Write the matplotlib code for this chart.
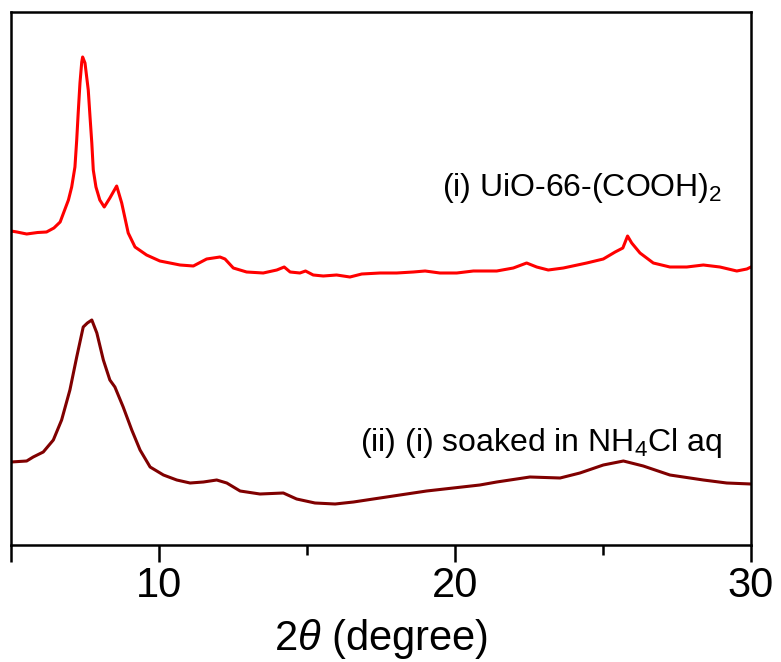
import matplotlib
matplotlib.use("Agg")
import matplotlib.pyplot as plt

plt.rcParams['font.family'] = ['Liberation Sans', 'DejaVu Sans']
plt.rcParams['mathtext.fontset'] = 'custom'
plt.rcParams['mathtext.rm'] = 'Liberation Sans'
plt.rcParams['mathtext.it'] = 'Liberation Sans:italic'

# (i) UiO-66-(COOH)2 pattern (offset intensity, a.u.)
two_theta_i = [5.0, 5.2, 5.53, 5.9, 6.2, 6.45, 6.66, 6.94, 7.05, 7.16, 7.22, 7.27, 7.33, 7.39,
               7.42, 7.50, 7.61, 7.67, 7.73, 7.78, 7.87, 8.0, 8.15, 8.34, 8.57, 8.66, 8.74,
               8.85, 8.96, 9.19, 9.58, 10.03, 10.71, 11.16, 11.61, 12.06, 12.23, 12.51, 12.96,
               13.52, 13.98, 14.23, 14.43, 14.76, 14.95, 15.21, 15.55, 16.0, 16.45, 16.85,
               17.47, 18.03, 18.59, 18.99, 19.49, 20.06, 20.62, 21.0, 21.41, 21.97, 22.42,
               22.76, 23.15, 23.66, 24.45, 25.01, 25.41, 25.67, 25.83, 25.97, 26.25, 26.7,
               27.26, 27.83, 28.39, 28.95, 29.52, 29.86, 30.0]
intensity_i = [314, 313, 311, 312.5, 313, 317, 323, 345, 358, 378, 405, 432, 462, 483,
               488, 482, 455, 428, 402, 375, 358, 345, 338, 347, 359, 350, 342,
               327, 312, 298, 290, 284, 280, 279, 286, 288, 286, 277, 273,
               272, 275, 278, 273, 272, 274, 270, 269, 270, 268, 271,
               272, 272, 273, 274, 272, 272, 274, 274, 274, 277, 282,
               278, 275, 277, 282, 286, 293, 297, 309, 302, 292, 282,
               278, 278, 280, 278, 274, 276, 278]

# (ii) after soaking in NH4Cl aq
two_theta_ii = [5.0, 5.53, 5.75, 6.09, 6.43, 6.71, 6.99, 7.22, 7.44, 7.58, 7.73, 7.9, 8.12,
                8.34, 8.51, 8.79, 9.08, 9.36, 9.7, 10.15, 10.6, 11.05, 11.5, 11.95, 12.29,
                12.74, 13.41, 14.2, 14.65, 15.27, 15.95, 16.57, 17.24, 18.14, 19.04, 19.94,
                20.84, 21.41, 22.53, 23.55, 24.22, 25.01, 25.69, 26.36, 27.26, 28.39, 29.18, 30.0]
intensity_ii = [83, 84, 88, 93, 105, 125, 155, 188, 218, 222, 225, 212, 185,
                165, 158, 138, 115, 95, 78, 70, 65, 62, 63, 65, 62,
                54, 51, 52, 46, 42, 41, 43, 46, 50, 54, 57,
                60, 63, 68, 67, 72, 80, 84, 79, 70, 65, 62, 61]

labels = ["(i) UiO-66-(COOH)$_2$", "(ii) (i) soaked in NH$_4$Cl aq"]
major_ticks = [5, 10, 20, 30]
major_labels = ["", "10", "20", "30"]
minor_ticks = [15, 25]

fig = plt.figure(figsize=(7.81, 6.62), dpi=100)
ax = fig.add_axes([11/781, 1-545/662, 740/781, 533/662])

ax.plot(two_theta_i, intensity_i, color="#FF0000", lw=2.2)
ax.plot(two_theta_ii, intensity_ii, color="#800000", lw=2.2)

ax.set_xlim(5, 30)
ax.set_ylim(0, 533)
ax.set_yticks([])
ax.set_xticks(major_ticks)
ax.set_xticklabels(major_labels)
ax.set_xticks(minor_ticks, minor=True)
ax.tick_params(axis='x', which='major', direction='out', length=12, width=1.8,
               labelsize=30, pad=3)
ax.tick_params(axis='x', which='minor', direction='out', length=7, width=1.8)
for s in ax.spines.values():
    s.set_linewidth(1.8)

ax.set_xlabel("2$\\theta$ (degree)", fontsize=30, labelpad=8)

ax.text(0.961, 0.670, labels[0], transform=ax.transAxes, ha='right', va='center', fontsize=23)
ax.text(0.961, 0.191, labels[1], transform=ax.transAxes, ha='right', va='center', fontsize=23)

fig.savefig("out.png", dpi=100)
